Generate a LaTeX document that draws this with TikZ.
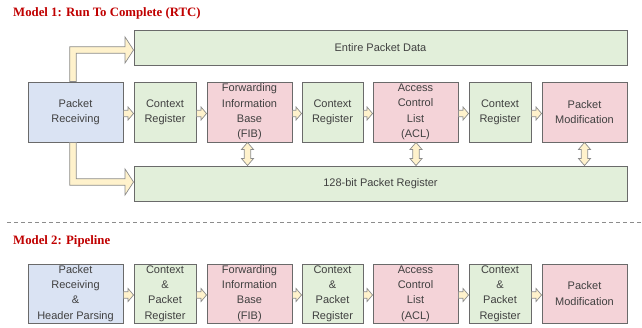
\documentclass[tikz,border=0pt]{standalone}
\usepackage{fontspec}
\setmainfont{Liberation Sans}
\newfontfamily\titlefont{Liberation Serif}
\usetikzlibrary{calc}
\definecolor{bluef}{HTML}{DAE3F3}
\definecolor{greenf}{HTML}{E2EFDA}
\definecolor{pinkf}{HTML}{F4D3D8}
\definecolor{bordc}{HTML}{6A6A6A}
\definecolor{arrf}{HTML}{FFF2CC}
\definecolor{arrd}{HTML}{8C8C8C}
\definecolor{txtc}{HTML}{404040}
\definecolor{titc}{HTML}{C00000}
\tikzset{
  box/.style={draw=bordc, line width=0.9pt, inner sep=0pt, align=center, text=txtc,
    font=\fontsize{11}{15.3}\selectfont, minimum height=60pt},
  bluebox/.style={box, fill=bluef},
  greenbox/.style={box, fill=greenf},
  pinkbox/.style={box, fill=pinkf},
  fatarrow/.style={draw=arrd, fill=arrf, line width=0.7pt, line join=miter},
  titlestyle/.style={anchor=base west, inner sep=0pt, text=titc, font=\titlefont\bfseries\fontsize{12.8}{14}\selectfont}
}
\newcommand\harr[2]{\draw[fatarrow] let \p1=([yshift=-1.5pt]#1.east), \p2=(#2.west) in
  (\x1,\y1+3.2pt) -- (\x2-5.5pt,\y1+3.2pt) -- (\x2-5.5pt,\y1+6.5pt) -- (\x2,\y1) --
  (\x2-5.5pt,\y1-6.5pt) -- (\x2-5.5pt,\y1-3.2pt) -- (\x1,\y1-3.2pt) -- cycle;}
\newcommand\varr[3]{\draw[fatarrow] let \p1=([xshift=#3]#1.south), \p2=(#2.north) in
  (\x1,\y1) -- (\x1+6pt,\y1-7pt) -- (\x1+3.2pt,\y1-7pt) -- (\x1+3.2pt,\y2+7pt) --
  (\x1+6pt,\y2+7pt) -- (\x1,\y2) -- (\x1-6pt,\y2+7pt) -- (\x1-3.2pt,\y2+7pt) --
  (\x1-3.2pt,\y1-7pt) -- (\x1-6pt,\y1-7pt) -- cycle;}
\begin{document}
\begin{tikzpicture}[x=1pt,y=-1pt]
\useasboundingbox (0,0) rectangle (642,328);
% titles
\node[titlestyle] (t1) at (13,17) {Model 1: Run To Complete (RTC)};
\node[titlestyle] (t2) at (13,245) {Model 2: Pipeline};
% Model 1
\node[greenbox, minimum width=493pt, minimum height=35pt] (EPD) at (380.5,47.5) {Entire Packet Data};
\node[greenbox, minimum width=493pt, minimum height=35pt] (REG) at (380.5,183.5) {128-bit Packet Register};
\node[bluebox, minimum width=95pt] (PR) at (75.5,112) {Packet\\Receiving};
\node[greenbox, minimum width=62pt] (CR1) at (165,112) {Context\\Register};
\node[pinkbox, minimum width=85pt] (FIB) at (249.5,112) {Forwarding\\Information\\Base\\(FIB)};
\node[greenbox, minimum width=61pt] (CR2) at (332.5,112) {Context\\Register};
\node[pinkbox, minimum width=85pt] (ACL) at (415.5,112) {Access\\Control\\List\\(ACL)};
\node[greenbox, minimum width=62pt] (CR3) at (500,112) {Context\\Register};
\node[pinkbox, minimum width=85pt] (PM) at (584.5,112) {Packet\\Modification};
\harr{PR}{CR1}
\harr{CR1}{FIB}
\harr{FIB}{CR2}
\harr{CR2}{ACL}
\harr{ACL}{CR3}
\harr{CR3}{PM}
\varr{FIB}{REG}{-2pt}
\varr{ACL}{REG}{0.5pt}
\varr{PM}{REG}{0pt}
% L arrows
\draw[fatarrow] let \p1=([xshift=-2.5pt]PR.north), \p2=([yshift=-2.5pt]EPD.west) in
  (\x1-3.3pt,\y1) -- (\x1-3.3pt,\y2+3.3pt) -- (\x2-8.5pt,\y2+3.3pt) -- (\x2-8.5pt,\y2+13pt) --
  (\x2,\y2) -- (\x2-8.5pt,\y2-13pt) -- (\x2-8.5pt,\y2-3.3pt) -- (\x1+3.3pt,\y2-3.3pt) --
  (\x1+3.3pt,\y1) -- cycle;
\draw[fatarrow] let \p1=([xshift=-2.5pt]PR.south), \p2=([yshift=1.5pt]REG.west) in
  (\x1-3.3pt,\y1) -- (\x1-3.3pt,\y2-3.3pt) -- (\x2-8.5pt,\y2-3.3pt) -- (\x2-8.5pt,\y2-13pt) --
  (\x2,\y2) -- (\x2-8.5pt,\y2+13pt) -- (\x2-8.5pt,\y2+3.3pt) -- (\x1+3.3pt,\y2+3.3pt) --
  (\x1+3.3pt,\y1) -- cycle;
% separator
\coordinate (dl) at (7,222.5);
\coordinate (dr) at (642,222.5);
\draw[color=arrd, line width=0.9pt, dash pattern=on 4pt off 3pt] (dl) -- (dr);
% Model 2
\node[bluebox, minimum width=95pt, minimum height=59pt] (PR2) at (75.5,293.5) {Packet\\Receiving\\\&\\Header Parsing};
\node[greenbox, minimum width=62pt, minimum height=59pt] (C1) at (165,293.5) {Context\\\&\\Packet\\Register};
\node[pinkbox, minimum width=85pt, minimum height=59pt] (FIB2) at (249.5,293.5) {Forwarding\\Information\\Base\\(FIB)};
\node[greenbox, minimum width=61pt, minimum height=59pt] (C2) at (332.5,293.5) {Context\\\&\\Packet\\Register};
\node[pinkbox, minimum width=85pt, minimum height=59pt] (ACL2) at (415.5,293.5) {Access\\Control\\List\\(ACL)};
\node[greenbox, minimum width=62pt, minimum height=59pt] (C3) at (500,293.5) {Context\\\&\\Packet\\Register};
\node[pinkbox, minimum width=85pt, minimum height=59pt] (PM2) at (584.5,293.5) {Packet\\Modification};
\harr{PR2}{C1}
\harr{C1}{FIB2}
\harr{FIB2}{C2}
\harr{C2}{ACL2}
\harr{ACL2}{C3}
\harr{C3}{PM2}
\end{tikzpicture}
\end{document}
